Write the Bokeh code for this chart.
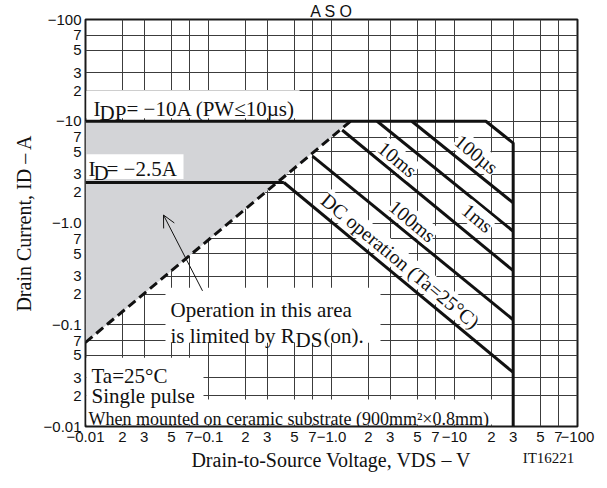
import math
from bokeh.plotting import figure
from bokeh.models import Range1d, FixedTicker, Label, BoxAnnotation, Arrow, OpenHead, LogAxis
from bokeh.embed import file_html
from bokeh.resources import INLINE

# ---- data (magnitudes; the chart shows them as negative values) ----
rds_v = [0.01, 1.43]          # R_DS(on) limit (dashed)
rds_i = [0.067, 10.0]
area_v = [0.01, 0.01, 1.43]   # shaded area limited by R_DS(on)
area_i = [0.067, 10.0, 10.0]
id_v = [0.01, 0.41]           # I_D = -2.5 A
id_i = [2.5, 2.5]
idp_v = [0.01, 18.0, 30.0, 30.0]   # I_DP = -10 A envelope and V_DSS limit
idp_i = [10.0, 10.0, 6.1, 0.01]
dc_v = [0.41, 30.0]
dc_i = [2.5, 0.034]
ms100_v = [0.70, 30.0]
ms100_i = [4.55, 0.112]
ms10_v = [1.22, 30.0]
ms10_i = [8.2, 0.34]
ms1_v = [2.35, 30.0]
ms1_i = [10.0, 0.83]
us100_v = [4.5, 30.0]
us100_i = [10.0, 1.58]

ticks = [0.01, 0.02, 0.03, 0.05, 0.07, 0.1, 0.2, 0.3, 0.5, 0.7, 1.0, 2.0, 3.0, 5.0, 7.0,
         10.0, 20.0, 30.0, 50.0, 70.0, 100.0]
x_tick_labels = ["−0.01", "2", "3", "5", "7", "−0.1", "2", "3", "5", "7", "−1.0", "2", "3", "5", "7",
                 "−10", "2", "3", "5", "7", "−100"]
y_tick_labels = ["−0.01", "2", "3", "5", "7", "−0.1", "2", "3", "5", "7", "−1.0", "2", "3", "5", "7",
                 "−10", "2", "3", "5", "7", "−100"]

# ---- pixel helpers for annotation placement (frame: x 85..577, y 18..426) ----
FL, FT, DX, DY = 85, 18, 123, 102
def X(px):
    return 10 ** (-2 + (px - FL) / DX)
def Y(py):
    return 10 ** (2 - (py - FT) / DY)

SERIF = "Liberation Serif"
SANS = "Liberation Sans"
INK = "#111111"

p = figure(width=607, height=488, x_axis_type="log", y_axis_type="log",
           x_range=Range1d(0.01, 100), y_range=Range1d(0.01, 100),
           output_backend="svg", toolbar_location=None,
           min_border_left=85, min_border_right=30, min_border_top=18, min_border_bottom=62)
p.background_fill_color = "white"
p.border_fill_color = "white"
p.outline_line_color = "#1a1a1a"
p.outline_line_width = 2

# title (the source shows it cropped at the very top)
p.title.text = "A S O"
p.title.align = "center"
p.title.text_font = SANS
p.title.text_font_size = "16px"
p.title.text_font_style = "normal"
p.title.text_color = INK
p.title.standoff = 0

xa = p.xaxis[0]
ya = p.yaxis[0]
for ax, labels in ((xa, x_tick_labels), (ya, y_tick_labels)):
    ax.ticker = FixedTicker(ticks=ticks)
    ax.major_label_overrides = {t: l for t, l in zip(ticks, labels)}
    ax.major_tick_out = 0
    ax.major_tick_in = 0
    ax.minor_tick_out = 0
    ax.minor_tick_in = 0
    ax.axis_line_color = None
    ax.major_label_text_font = SANS
    ax.major_label_text_font_size = "15px"
    ax.major_label_text_color = INK
    ax.axis_label_text_font = SERIF
    ax.axis_label_text_font_size = "20px"
    ax.axis_label_text_font_style = "normal"
    ax.axis_label_text_color = INK
xa.major_label_standoff = 5
ya.major_label_standoff = 4
xa.axis_label = "Drain-to-Source Voltage, VDS – V"
xa.axis_label_standoff = 4
ya.axis_label = "Drain Current, ID – A"
ya.axis_label_standoff = 6

for g in (p.xgrid, p.ygrid):
    g.ticker = FixedTicker(ticks=ticks)
    g.grid_line_color = "#3c3c3c"
    g.grid_line_width = 1
    g.grid_line_alpha = 1

# figure code in the lower right corner, set as the single label of an extra axis
code_tick = X(548)
code_axis = LogAxis(ticker=FixedTicker(ticks=[code_tick]),
                    major_label_overrides={code_tick: "IT16221"},
                    major_label_standoff=-24, axis_line_color=None,
                    major_tick_in=0, major_tick_out=0, minor_tick_in=0, minor_tick_out=0,
                    major_label_text_font=SERIF, major_label_text_font_size="15px",
                    major_label_text_color=INK)
p.add_layout(code_axis, "below")

# ---- data marks ----
p.patch(area_v, area_i, fill_color="#d3d4d7", line_color=None)
p.line(rds_v, rds_i, line_width=3, line_dash="9 5", line_color=INK)
p.line(id_v, id_i, line_width=3, line_color=INK)
p.line(idp_v, idp_i, line_width=3, line_color=INK)
for xs, ys in ((dc_v, dc_i), (ms100_v, ms100_i), (ms10_v, ms10_i), (ms1_v, ms1_i), (us100_v, us100_i)):
    p.line(xs, ys, line_width=3, line_color=INK)

# ---- white boxes behind the notes ----
for l, t, r, b in ((86, 89, 299, 117), (86, 153, 183, 178), (165, 287, 380, 342),
                   (86, 357, 203, 399), (86, 399, 497, 424)):
    p.add_layout(BoxAnnotation(left=X(l), right=X(r), top=Y(t), bottom=Y(b),
                               fill_color="white", fill_alpha=1, line_color=None))

def txt(s, px, py, size=21, font=SERIF, angle=0.0, align="left", baseline="alphabetic", bg=None):
    lab = Label(x=X(px), y=Y(py), text=s, text_font=font, text_font_size=f"{size}px",
                text_color=INK, angle=angle, text_align=align, text_baseline=baseline)
    if bg:
        lab.background_fill_color = bg
        lab.background_fill_alpha = 1
        lab.padding = 0
    p.add_layout(lab)

# I_DP note
txt("I", 93, 108)
txt("DP", 99, 112)
txt("= −10A (PW≤10µs)", 126, 108)
# I_D note
txt("I", 88, 168)
txt("D", 93, 172)
txt("= −2.5A", 106, 168)
# operation note
txt("Operation in this area", 170, 309)
txt("is limited by R", 170, 335)
txt("DS", 295, 339)
txt("(on).", 323, 335)
# conditions
txt("Ta=25°C", 91, 375)
txt("Single pulse", 91, 395)
txt("When mounted on ceramic substrate (900mm²×0.8mm)", 88, 418, size=18)

# curve labels along the lines
ang = -math.atan2(DY, DX)
txt("100µs", 476, 153, size=20, angle=ang, align="center", baseline="middle", bg="white")
txt("1ms", 477, 217, size=20, angle=ang, align="center", baseline="middle", bg="white")
txt("10ms", 397, 158, size=20, angle=ang, align="center", baseline="middle", bg="white")
txt("100ms", 412, 220, size=20, angle=ang, align="center", baseline="middle", bg="white")
txt("DC operation (Ta=25°C)", 400, 260, size=20, angle=ang, align="center", baseline="middle", bg="white")

# arrow into the shaded area
p.add_layout(Arrow(x_start=X(202), y_start=Y(290), x_end=X(163), y_end=Y(214),
                   line_width=1, line_color=INK,
                   end=OpenHead(size=12, line_width=1, line_color=INK)))

open("out.html", "w").write(file_html(p, INLINE))
